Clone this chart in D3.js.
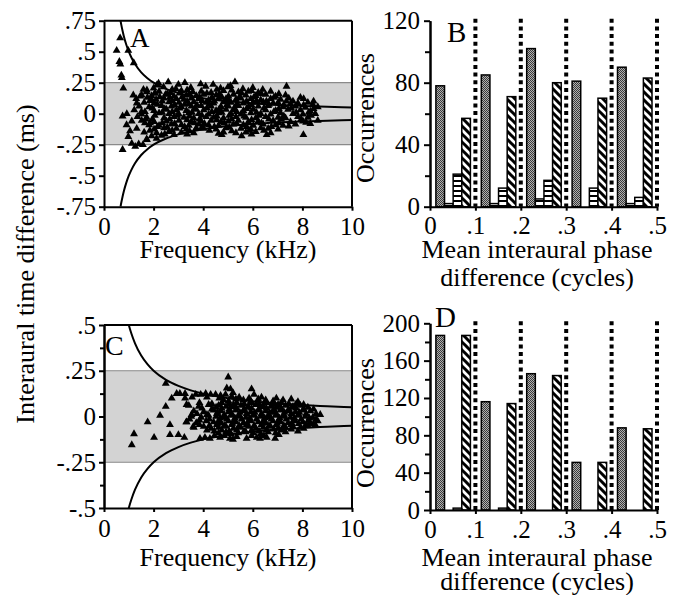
<!DOCTYPE html>
<html><head><meta charset="utf-8">
<script src="https://cdn.jsdelivr.net/npm/d3@7"></script>
<style>body{margin:0;background:#fff}svg{display:block}</style>
</head><body><svg id="c" width="676" height="595"></svg>
<script>
// ---------- DATA ----------
const freqTicks = [0, 2, 4, 6, 8, 10];
const freqTickLabels = ["0", "2", "4", "6", "8", "10"];
const itdTicksA = [0.75, 0.5, 0.25, 0, -0.25, -0.5, -0.75];
const itdTickLabelsA = [".75", ".5", ".25", "0", "-.25", "-.5", "-.75"];
const itdTicksC = [0.5, 0.25, 0, -0.25, -0.5];
const itdTickLabelsC = [".5", ".25", "0", "-.25", "-.5"];
const itdMinorTicksC = [0.375, 0.125, -0.125, -0.375];
const phaseTicks = [0, 0.1, 0.2, 0.3, 0.4, 0.5];
const phaseTickLabels = ["0", ".1", ".2", ".3", ".4", ".5"];
const occTicksB = [0, 40, 80, 120];
const occMinorTicksB = [20, 60, 100];
const occTicksD = [0, 40, 80, 120, 160, 200];
const occMinorTicksD = [20, 60, 100, 140, 180];
const dottedPhases = [0.1, 0.2, 0.3, 0.4, 0.5];

// half-period curve (ms)
const curveFreq = [0.667, 0.7, 0.75, 0.8, 0.9, 1, 1.1, 1.25, 1.5, 1.75, 2, 2.5, 3, 3.5, 4, 5, 6, 7, 8, 9, 10];
const curveItd  = [0.75, 0.714, 0.667, 0.625, 0.556, 0.5, 0.455, 0.4, 0.333, 0.286, 0.25, 0.2, 0.167, 0.143, 0.125, 0.1, 0.083, 0.071, 0.0625, 0.056, 0.05];
const bandItd = [-0.25, 0.25];

// panel A scatter [kHz, ms]
const scatterA = [
[0.51,0.51],[0.65,0.61],[0.98,0.51],[0.62,0.42],[0.66,0.40],[1.20,0.41],[0.70,0.31],[0.72,0.29],[0.78,0.205],
[0.75,-0.02],[0.91,-0.09],[0.75,-0.29],[0.98,-0.185],[1.12,-0.24],[1.26,-0.265],[1.40,-0.245],[1.57,-0.25],[1.73,-0.21],
[1.18,0.15],[1.32,0.085],[1.46,0.14],[1.59,0.195],[1.73,0.19],[1.35,-0.025],[1.51,0.015],[1.68,-0.045],[1.05,-0.14],[1.86,-0.075],[1.93,0.11],[2.06,0.165],[2.13,0.23],
[2.20,0.245],[2.59,0.255],[3.00,0.235],[3.26,0.25],[3.90,0.24],[4.40,0.235],[5.10,0.225],[5.28,0.255],[7.36,0.22],
[2.00,0.205],[2.40,0.215],[2.90,0.20],[3.50,0.21],[4.10,0.22],[4.70,0.205],[5.00,0.215],[5.60,0.20],[6.00,0.21],[6.40,0.195],
[2.75,0.195],[3.35,0.19],[4.55,0.195],[5.15,0.19],[5.95,0.185],
[1.72,0.175],[2.22,0.18],[2.68,0.17],[3.12,0.185],[3.58,0.175],[3.92,0.18],[4.32,0.17],[4.82,0.185],[5.42,0.175],[5.82,0.18],[6.22,0.17],[6.72,0.18],
[2.05,0.165],[2.55,0.16],[3.05,0.165],[3.45,0.16],[4.15,0.165],[4.65,0.16],[5.55,0.165],[6.35,0.16],[7.05,0.16],
[1.52,0.15],[1.92,0.145],[2.48,0.155],[2.82,0.14],[3.32,0.15],[3.72,0.145],[4.02,0.155],[4.52,0.15],[5.02,0.14],[5.22,0.155],[5.72,0.15],[6.12,0.145],[6.52,0.155],[6.92,0.14],[7.32,0.15],[7.92,0.13],
[1.75,0.13],[2.25,0.135],[2.65,0.13],[3.15,0.135],[3.85,0.135],[4.35,0.13],[4.75,0.135],[5.45,0.13],[6.05,0.135],[6.85,0.13],[7.45,0.125],[8.05,0.12],
[1.30,0.12],[2.10,0.115],[2.42,0.125],[2.92,0.12],[3.22,0.115],[3.52,0.125],[3.82,0.12],[4.22,0.11],[4.62,0.125],[4.92,0.12],[5.32,0.115],[5.52,0.125],[5.92,0.12],[6.32,0.11],[6.72,0.12],[7.12,0.115],[7.62,0.10],[8.22,0.09],
[1.85,0.105],[2.35,0.10],[2.75,0.105],[3.35,0.10],[3.95,0.105],[4.45,0.10],[5.05,0.105],[5.75,0.10],[6.15,0.105],[6.55,0.10],[7.35,0.10],[8.45,0.10],
[1.62,0.09],[2.02,0.085],[2.62,0.095],[3.02,0.09],[3.42,0.08],[3.62,0.095],[4.12,0.09],[4.42,0.085],[4.82,0.095],[5.12,0.09],[5.62,0.085],[6.02,0.09],[6.42,0.095],[6.82,0.085],[7.02,0.09],[7.52,0.08],[7.82,0.085],[8.42,0.075],
[2.15,0.075],[2.85,0.07],[3.25,0.075],[3.75,0.07],[4.25,0.075],[4.95,0.07],[5.35,0.075],[5.95,0.07],[6.65,0.075],[7.25,0.07],[8.05,0.07],
[1.42,0.06],[1.82,0.055],[2.32,0.065],[2.72,0.06],[3.12,0.055],[3.52,0.06],[3.92,0.065],[4.32,0.06],[4.72,0.055],[5.02,0.06],[5.42,0.065],[5.82,0.055],[6.22,0.06],[6.62,0.065],[7.22,0.055],[7.72,0.06],[8.12,0.05],[8.62,0.055],
[1.95,0.045],[2.45,0.04],[3.05,0.045],[3.65,0.04],[4.15,0.045],[4.65,0.04],[5.25,0.045],[5.75,0.04],[6.45,0.045],[7.05,0.04],[7.55,0.045],[8.45,0.04],
[1.22,0.03],[2.02,0.025],[2.52,0.035],[2.92,0.03],[3.32,0.025],[3.72,0.035],[4.02,0.03],[4.52,0.025],[4.92,0.035],[5.22,0.03],[5.62,0.025],[6.02,0.035],[6.52,0.03],[6.92,0.025],[7.42,0.035],[7.92,0.03],[8.32,0.02],
[1.65,0.015],[2.35,0.01],[2.75,0.015],[3.55,0.01],[4.35,0.015],[4.75,0.01],[5.35,0.015],[6.15,0.01],[6.85,0.015],[7.75,0.01],[8.25,0.01],
[0.92,0.0],[1.52,-0.005],[2.22,0.005],[2.62,0.0],[3.02,-0.005],[3.42,0.005],[3.82,0.0],[4.22,-0.005],[4.62,0.005],[5.12,0.0],[5.52,-0.005],[5.92,0.005],[6.32,0.0],[6.72,-0.005],[7.12,0.005],[7.62,0.0],[8.02,-0.005],[8.52,0.0],
[2.05,-0.015],[2.95,-0.015],[3.45,-0.02],[3.95,-0.015],[4.55,-0.02],[5.05,-0.015],[5.65,-0.02],[6.25,-0.015],[7.25,-0.02],[8.35,-0.015],
[1.72,-0.03],[2.42,-0.035],[2.82,-0.025],[3.22,-0.03],[3.62,-0.035],[4.12,-0.025],[4.42,-0.03],[4.82,-0.035],[5.32,-0.025],[5.72,-0.03],[6.12,-0.035],[6.52,-0.025],[7.02,-0.03],[7.32,-0.035],[7.82,-0.025],[8.22,-0.03],
[1.95,-0.045],[2.65,-0.045],[3.35,-0.05],[3.85,-0.045],[4.55,-0.05],[5.15,-0.045],[5.95,-0.05],[6.65,-0.045],[7.15,-0.045],[7.95,-0.045],
[1.12,-0.06],[1.52,-0.055],[2.02,-0.065],[2.52,-0.06],[3.02,-0.055],[3.52,-0.065],[3.92,-0.06],[4.32,-0.055],[4.72,-0.065],[5.02,-0.06],[5.42,-0.055],[5.82,-0.065],[6.22,-0.06],[6.82,-0.055],[7.52,-0.065],[8.02,-0.06],[8.62,-0.055],
[1.65,-0.075],[2.35,-0.075],[2.85,-0.08],[3.65,-0.075],[4.05,-0.08],[4.85,-0.075],[5.35,-0.08],[6.35,-0.075],[7.05,-0.075],[8.15,-0.07],
[1.82,-0.09],[2.22,-0.095],[2.72,-0.085],[3.12,-0.09],[3.42,-0.095],[3.82,-0.085],[4.22,-0.09],[4.62,-0.095],[5.22,-0.085],[5.62,-0.09],[6.02,-0.095],[6.42,-0.085],[6.92,-0.09],[7.22,-0.095],[7.72,-0.085],[8.32,-0.08],
[2.15,-0.105],[2.55,-0.11],[3.25,-0.105],[3.95,-0.11],[4.45,-0.105],[5.05,-0.11],[5.75,-0.105],[6.75,-0.105],[7.45,-0.10],
[1.32,-0.12],[2.02,-0.125],[2.42,-0.115],[2.92,-0.12],[3.32,-0.125],[3.72,-0.115],[4.02,-0.12],[4.52,-0.125],[4.92,-0.115],[5.52,-0.12],[5.92,-0.125],[6.32,-0.115],[6.62,-0.12],[7.02,-0.125],
[1.85,-0.135],[2.75,-0.135],[3.45,-0.14],[4.25,-0.135],[5.15,-0.14],[5.85,-0.135],[6.45,-0.135],
[1.62,-0.15],[2.12,-0.155],[2.62,-0.145],[3.12,-0.15],[3.62,-0.155],[4.62,-0.16],[4.82,-0.15],[5.32,-0.155],[5.72,-0.15],[6.12,-0.145],[6.72,-0.155],
[2.45,-0.165],[3.35,-0.165],[4.75,-0.17],[5.95,-0.165],
[1.92,-0.18],[2.32,-0.175],[2.82,-0.17],[5.55,-0.18],[6.56,-0.17],[8.04,-0.17],
[1.72,-0.205],[2.12,-0.20]
];

// panel C scatter [kHz, ms]
const scatterC = [
[1.12,-0.155],[1.21,-0.095],[1.76,-0.03],[2.02,-0.115],[2.26,0.005],[2.49,0.18],[2.49,0.055],[2.66,-0.045],[2.66,-0.10],[2.73,0.10],
[2.93,0.125],[3.06,0.125],[3.00,-0.10],[3.27,0.10],[3.27,0.125],[3.33,0.065],[3.24,-0.115],[3.33,-0.03],[3.53,0.01],[3.60,-0.055],
[3.70,0.12],[3.90,0.12],[4.10,0.125],[4.30,0.12],[4.50,0.12],[4.70,0.115],[4.90,0.12],[5.01,0.215],[4.95,0.155],[5.10,0.15],[5.20,0.13],[5.95,0.15],[6.05,0.12],
[3.55,0.105],[4.15,0.105],[4.65,0.10],[5.15,0.11],[5.45,0.105],[5.85,0.10],[6.35,0.105],[6.95,0.10],[7.55,0.095],
[4.82,0.09],[5.02,0.085],[5.32,0.095],[5.62,0.09],[5.92,0.085],[6.22,0.095],[6.52,0.09],[6.82,0.085],[7.22,0.09],[7.82,0.08],
[3.85,0.075],[4.35,0.07],[4.75,0.075],[5.05,0.07],[5.35,0.075],[5.65,0.07],[5.95,0.075],[6.25,0.07],[6.55,0.075],[6.85,0.07],[7.15,0.075],[7.45,0.07],[7.75,0.07],[8.05,0.065],
[3.42,0.06],[3.82,0.055],[4.22,0.065],[4.62,0.06],[4.92,0.055],[5.22,0.065],[5.52,0.06],[5.82,0.055],[6.12,0.065],[6.42,0.06],[6.72,0.055],[7.02,0.065],[7.32,0.06],[7.62,0.055],[7.92,0.06],[8.22,0.05],
[3.95,0.045],[4.35,0.04],[4.75,0.045],[5.05,0.04],[5.35,0.045],[5.65,0.04],[5.95,0.045],[6.25,0.04],[6.55,0.045],[6.85,0.04],[7.15,0.045],[7.45,0.04],[7.75,0.045],[8.05,0.04],[8.45,0.04],
[4.52,0.05],[5.18,0.052],[5.78,0.05],[6.38,0.052],[6.98,0.05],[7.58,0.05],
[3.62,0.03],[4.02,0.025],[4.42,0.035],[4.72,0.03],[5.02,0.025],[5.32,0.035],[5.62,0.03],[5.92,0.025],[6.22,0.035],[6.52,0.03],[6.82,0.025],[7.12,0.035],[7.42,0.03],[7.72,0.025],[8.02,0.035],[8.32,0.03],
[4.58,0.022],[5.48,0.022],[6.08,0.022],[6.68,0.022],[7.28,0.022],[7.88,0.022],
[3.75,0.015],[4.15,0.01],[4.55,0.015],[4.85,0.01],[5.15,0.015],[5.45,0.01],[5.75,0.015],[6.05,0.01],[6.35,0.015],[6.65,0.01],[6.95,0.015],[7.25,0.01],[7.55,0.015],[7.85,0.01],[8.15,0.015],[8.55,0.015],
[3.52,0.0],[3.92,-0.005],[4.22,0.005],[4.52,0.0],[4.82,-0.005],[5.12,0.005],[5.42,0.0],[5.72,-0.005],[6.02,0.005],[6.32,0.0],[6.62,-0.005],[6.92,0.005],[7.22,0.0],[7.52,-0.005],[7.82,0.005],[8.12,0.0],[8.42,-0.005],[8.72,0.01],
[4.68,-0.008],[5.28,-0.008],[5.88,-0.008],[6.48,-0.008],[7.08,-0.008],[7.68,-0.008],[8.28,-0.008],
[3.45,-0.015],[3.85,-0.02],[4.25,-0.015],[4.65,-0.02],[4.95,-0.015],[5.25,-0.02],[5.55,-0.015],[5.85,-0.02],[6.15,-0.015],[6.45,-0.02],[6.75,-0.015],[7.05,-0.02],[7.35,-0.015],[7.65,-0.02],[7.95,-0.015],[8.25,-0.02],[8.55,-0.015],
[3.32,-0.03],[3.72,-0.035],[4.12,-0.025],[4.42,-0.03],[4.72,-0.035],[5.02,-0.025],[5.32,-0.03],[5.62,-0.035],[5.92,-0.025],[6.22,-0.03],[6.52,-0.035],[6.82,-0.025],[7.12,-0.03],[7.42,-0.035],[7.72,-0.025],[8.02,-0.03],[8.32,-0.035],[8.62,-0.025],
[4.58,-0.038],[5.18,-0.038],[5.78,-0.038],[6.38,-0.038],[6.98,-0.038],[7.58,-0.038],
[3.85,-0.045],[4.25,-0.05],[4.55,-0.045],[4.85,-0.05],[5.15,-0.045],[5.45,-0.05],[5.75,-0.045],[6.05,-0.05],[6.35,-0.045],[6.65,-0.05],[6.95,-0.045],[7.25,-0.05],[7.55,-0.045],[7.85,-0.04],[8.15,-0.045],[8.45,-0.04],
[3.62,-0.06],[4.02,-0.055],[4.32,-0.065],[4.62,-0.06],[4.92,-0.055],[5.22,-0.065],[5.52,-0.06],[5.82,-0.055],[6.12,-0.065],[6.42,-0.06],[6.72,-0.055],[7.02,-0.065],[7.32,-0.06],[7.62,-0.055],[7.92,-0.06],[8.22,-0.05],[8.52,-0.045],
[4.15,-0.075],[4.45,-0.08],[4.75,-0.075],[5.05,-0.08],[5.35,-0.075],[5.65,-0.08],[5.95,-0.075],[6.25,-0.08],[6.55,-0.075],[6.85,-0.07],[7.15,-0.075],[7.55,-0.07],[8.05,-0.065],
[4.62,-0.09],[4.92,-0.085],[5.12,-0.095],[5.42,-0.09],[5.72,-0.085],[6.02,-0.09],[6.32,-0.095],[6.62,-0.085],[6.92,-0.09],[7.32,-0.085],[7.82,-0.08],
[4.45,-0.105],[4.85,-0.105],[5.35,-0.11],[5.95,-0.105],[6.45,-0.105],[7.05,-0.10],
[3.87,-0.12],[4.07,-0.115],[4.27,-0.12],[4.68,-0.115],[5.08,-0.12],[5.20,-0.125],[5.75,-0.12],[6.16,-0.115],[6.29,-0.12],[6.56,-0.115],[6.90,-0.12]
];

// panels B and D: occurrences per phase bin, four bar series per bin
const phaseBins = [0, 0.1, 0.2, 0.3, 0.4];
const stippleB = [78, 85, 102, 81, 90];
const smallStripeB = [2, 2, 5, 0, 2];
const stripeB = [21, 12, 17, 12, 6];
const hatchB = [57, 71, 80, 70, 83];
const stippleD = [187, 116, 146, 51, 88];
const smallStripeD = [0, 0, 0, 0, 0];
const stripeD = [2, 2, 0, 0, 0];
const hatchD = [187, 114, 144, 51, 87];

// ---------- DRAWING ----------
const FONT = '"Liberation Serif","Times New Roman",serif';
const TICKFS = 25, TITLEFS = 26;
const svg = d3.select('#c');
const defs = svg.append('defs');

const stip = defs.append('pattern').attr('id', 'stip').attr('patternUnits', 'userSpaceOnUse').attr('width', 2).attr('height', 2);
stip.append('rect').attr('width', 2).attr('height', 2).attr('fill', '#b0b0b0');
stip.append('rect').attr('width', 1).attr('height', 1).attr('fill', '#3a3a3a');
stip.append('rect').attr('x', 1).attr('y', 1).attr('width', 1).attr('height', 1).attr('fill', '#3a3a3a');

const hor = defs.append('pattern').attr('id', 'hor').attr('patternUnits', 'userSpaceOnUse').attr('width', 4).attr('height', 5);
hor.append('rect').attr('width', 4).attr('height', 5).attr('fill', '#fff');
hor.append('rect').attr('width', 4).attr('height', 2).attr('fill', '#000');

const dg = defs.append('pattern').attr('id', 'diag').attr('patternUnits', 'userSpaceOnUse').attr('width', 8).attr('height', 8);
dg.append('rect').attr('width', 8).attr('height', 8).attr('fill', '#fff');
dg.append('path').attr('d', 'M-2,-2L10,10M-2,6L2,10M6,-2L10,2').attr('stroke', '#000').attr('stroke-width', 3);

function styleAxis(g) {
  g.attr('font-family', FONT).attr('font-size', TICKFS);
  g.selectAll('path.domain').attr('stroke', '#000').attr('stroke-width', 2);
  g.selectAll('.tick line').attr('stroke', '#000').attr('stroke-width', 2);
  g.selectAll('.tick text').attr('fill', '#000');
}

function text(x, y, s, size, anchor, rot) {
  const t = svg.append('text').attr('font-family', FONT).attr('font-size', size)
    .attr('text-anchor', anchor || 'middle').attr('fill', '#000').text(s);
  if (rot) t.attr('transform', `translate(${x},${y}) rotate(${rot})`);
  else t.attr('x', x).attr('y', y);
  return t;
}

function scatterPanel(id, x, y, ticks, labels, minor, pts) {
  const [x0, x1] = x.range();
  const [yb, yt] = y.range();
  defs.append('clipPath').attr('id', 'clip' + id).append('rect')
    .attr('x', x0).attr('y', yt).attr('width', x1 - x0).attr('height', yb - yt);
  const g = svg.append('g');
  g.append('rect').attr('x', x0).attr('width', x1 - x0)
    .attr('y', y(bandItd[1])).attr('height', y(bandItd[0]) - y(bandItd[1]))
    .attr('fill', '#d3d3d3');
  g.selectAll('line.band').data(bandItd).join('line')
    .attr('x1', x0).attr('x2', x1).attr('y1', d => y(d)).attr('y2', d => y(d))
    .attr('stroke', '#8a8a8a').attr('stroke-width', 1.2);
  const sym = d3.symbol().type(d3.symbolTriangle).size(27);
  g.append('g').selectAll('path').data(pts).join('path')
    .attr('d', sym).attr('transform', d => `translate(${x(d[0])},${y(d[1])})`)
    .attr('fill', '#000');
  const cg = g.append('g').attr('clip-path', `url(#clip${id})`);
  const up = d3.line().x((d, i) => x(curveFreq[i])).y(d => y(d)).curve(d3.curveMonotoneX);
  const dn = d3.line().x((d, i) => x(curveFreq[i])).y(d => y(-d)).curve(d3.curveMonotoneX);
  cg.append('path').attr('d', up(curveItd)).attr('fill', 'none').attr('stroke', '#000').attr('stroke-width', 2);
  cg.append('path').attr('d', dn(curveItd)).attr('fill', 'none').attr('stroke', '#000').attr('stroke-width', 2);
  g.append('line').attr('x1', x0).attr('x2', x1).attr('y1', yt).attr('y2', yt).attr('stroke', '#000').attr('stroke-width', 2);
  g.append('line').attr('x1', x1).attr('x2', x1).attr('y1', yt).attr('y2', yb).attr('stroke', '#000').attr('stroke-width', 2);
  if (minor) {
    const ma = svg.append('g').attr('transform', `translate(${x0},0)`)
      .call(d3.axisLeft(y).tickValues(minor).tickFormat('').tickSize(4).tickSizeOuter(0));
    styleAxis(ma);
  }
  const ya = svg.append('g').attr('transform', `translate(${x0},0)`)
    .call(d3.axisLeft(y).tickValues(ticks).tickFormat((d, i) => labels[i]).tickSize(5).tickPadding(3).tickSizeOuter(0));
  styleAxis(ya);
  const xa = svg.append('g').attr('transform', `translate(0,${yb})`)
    .call(d3.axisBottom(x).tickValues(freqTicks).tickFormat((d, i) => freqTickLabels[i]).tickSize(4).tickPadding(7).tickSizeOuter(0));
  styleAxis(xa);
}

function barPanel(x, y, ticks, minor, series) {
  const [yb, yt] = y.range();
  const g = svg.append('g');
  g.selectAll('line.dot').data(dottedPhases).join('line')
    .attr('x1', d => x(d)).attr('x2', d => x(d)).attr('y1', yt - 2).attr('y2', yb)
    .attr('stroke', '#000').attr('stroke-width', 4).attr('stroke-dasharray', '4,3.7');
  const slotStart = 0.013, slotW = 0.019;
  series.forEach((s, si) => {
    const rows = phaseBins.map((b, i) => ({ b, v: s.vals[i] })).filter(r => r.v > 0);
    g.append('g').selectAll('rect').data(rows).join('rect')
      .attr('x', r => x(r.b + slotStart + si * slotW))
      .attr('width', x(slotW) - x(0))
      .attr('y', r => y(r.v))
      .attr('height', r => y(0) - y(r.v))
      .attr('fill', s.fill).attr('stroke', '#000').attr('stroke-width', 1.5);
  });
  const x0 = x.range()[0];
  const ma = svg.append('g').attr('transform', `translate(${x0},0)`)
    .call(d3.axisLeft(y).tickValues(minor).tickFormat('').tickSize(5).tickSizeOuter(0));
  styleAxis(ma);
  const ya = svg.append('g').attr('transform', `translate(${x0},0)`)
    .call(d3.axisLeft(y).tickValues(ticks).tickSize(6).tickPadding(4).tickSizeOuter(0));
  styleAxis(ya);
  const xa = svg.append('g').attr('transform', `translate(0,${yb})`)
    .call(d3.axisBottom(x).tickValues(phaseTicks).tickFormat((d, i) => phaseTickLabels[i]).tickSize(4).tickPadding(6).tickSizeOuter(0));
  styleAxis(xa);
}

const xA = d3.scaleLinear().domain([0, 10]).range([104, 352]);
const yA = d3.scaleLinear().domain([-0.75, 0.75]).range([206.7, 20.7]);
const xC = d3.scaleLinear().domain([0, 10]).range([104, 352]);
const yC = d3.scaleLinear().domain([-0.5, 0.5]).range([508, 325]);
const xB = d3.scaleLinear().domain([0, 0.5]).range([430, 657]);
const yB = d3.scaleLinear().domain([0, 120]).range([206.7, 20.7]);
const xD = d3.scaleLinear().domain([0, 0.5]).range([430, 657]);
const yD = d3.scaleLinear().domain([0, 200]).range([510, 323.3]);

scatterPanel('A', xA, yA, itdTicksA, itdTickLabelsA, null, scatterA);
scatterPanel('C', xC, yC, itdTicksC, itdTickLabelsC, itdMinorTicksC, scatterC);

barPanel(xB, yB, occTicksB, occMinorTicksB, [
  { vals: stippleB, fill: 'url(#stip)' },
  { vals: smallStripeB, fill: 'url(#hor)' },
  { vals: stripeB, fill: 'url(#hor)' },
  { vals: hatchB, fill: 'url(#diag)' }
]);
barPanel(xD, yD, occTicksD, occMinorTicksD, [
  { vals: stippleD, fill: 'url(#stip)' },
  { vals: smallStripeD, fill: 'url(#hor)' },
  { vals: stripeD, fill: 'url(#hor)' },
  { vals: hatchD, fill: 'url(#diag)' }
]);

text(228, 258, 'Frequency (kHz)', TITLEFS);
text(228, 566, 'Frequency (kHz)', TITLEFS);
text(537, 258, 'Mean interaural phase', TITLEFS);
text(537, 285.5, 'difference (cycles)', TITLEFS);
text(537, 566, 'Mean interaural phase', TITLEFS);
text(537, 590, 'difference (cycles)', TITLEFS);
text(374, 118, 'Occurrences', TITLEFS, 'middle', -90);
text(374, 423, 'Occurrences', TITLEFS, 'middle', -90);
text(34, 264, 'Interaural time difference (ms)', TITLEFS, 'middle', -90);
text(130, 47, 'A', 27, 'start');
text(447, 42, 'B', 29, 'start');
text(105, 355, 'C', 28, 'start');
text(435, 327, 'D', 29, 'start');
</script></body></html>
